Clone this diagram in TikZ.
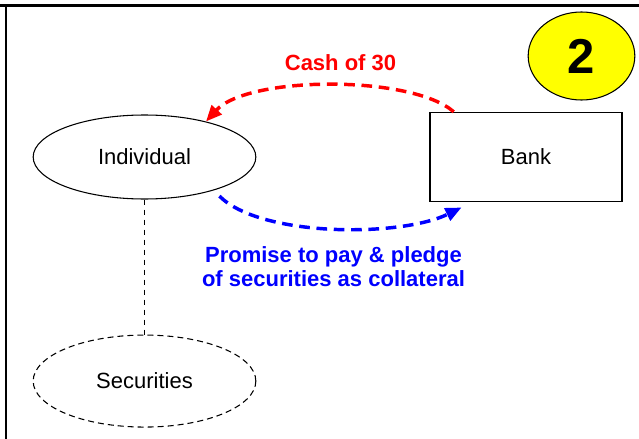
\documentclass[tikz,border=0pt]{standalone}
\usepackage{fontspec}
\setmainfont{Liberation Sans}
\usepackage{tikz}
\usetikzlibrary{shapes,arrows.meta,positioning}
\definecolor{cashred}{RGB}{255,0,0}
\definecolor{pledgeblue}{RGB}{0,0,255}
\definecolor{badgeyellow}{RGB}{255,255,0}
\tikzset{
  party/.style={ellipse, draw, line width=0.8pt, inner sep=0pt,
    minimum width=167pt, minimum height=63pt, font=\fontsize{16.5}{19.8}\selectfont},
  holding/.style={party, dash pattern=on 4.5pt off 3pt, minimum height=69pt},
  inst/.style={rectangle, draw, line width=1pt, inner sep=0pt,
    minimum width=144pt, minimum height=66.75pt, font=\fontsize{16.5}{19.8}\selectfont},
  badge/.style={ellipse, draw, fill=badgeyellow, line width=0.8pt, inner sep=0pt,
    minimum width=80pt, minimum height=66pt, font=\fontsize{36.75}{40}\selectfont\bfseries},
  flow/.style={line width=2.6pt, dash pattern=on 8pt off 5pt,
    -{Triangle[length=12pt,width=10pt]}},
  lbl/.style={inner sep=0pt, align=center, font=\fontsize{16.5}{18}\selectfont\bfseries},
}
\begin{document}
\begin{tikzpicture}[x=0.75pt,y=-0.75pt]
\useasboundingbox (0,0) rectangle (639,439);
% frame
\draw[line width=1.7pt] (0,5.5) -- (639,5.5);
\draw[line width=1.6pt] (5.7,5.5) -- (5.7,439);
% nodes
\node[party] (individual) at (144.5,157) {Individual};%
\node[inst, right=129.75pt of individual] (bank) {Bank};%
\node[holding, below=101.25pt of individual] (securities) {Securities};%
\node[badge] (step2) at (581.5,56) {2};%
\node[lbl, text=cashred] (cash) at (340.5,63) {Cash of 30};%
\node[lbl, text=pledgeblue] (pledge) at (333.5,267) {Promise to pay \& pledge\\of securities as collateral};%
% edges
\draw[flow, cashred] (bank.148) .. controls +(-42,-37) and +(42,-46) .. (individual.30);
\draw[flow, pledgeblue] ([shift={(8,5)}]individual.-27) .. controls +(41,41) and +(-61.5,30) .. ([yshift=-4pt]bank.215);
\draw[line width=0.8pt, dash pattern=on 4pt off 3.5pt] (individual) -- (securities);
\end{tikzpicture}
\end{document}
